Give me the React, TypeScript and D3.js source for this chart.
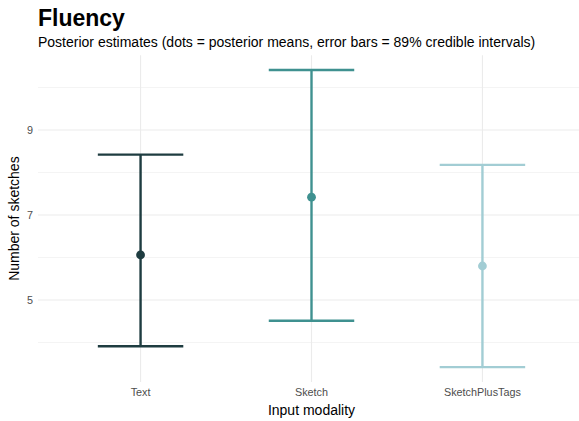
import React from "react";
import * as d3 from "d3";

const categories = ["Text", "Sketch", "SketchPlusTags"];
const means = [6.06, 7.42, 5.8];
const lowers = [3.91, 4.51, 3.42];
const uppers = [8.42, 10.41, 8.18];
const colors = ["#1E3C40", "#3F9190", "#A2CDD4"];
const yTicks = [5, 7, 9];
const yMinor = [4, 6, 8, 10];

const W = 579;
const H = 421;
const left = 38;
const right = 585;
const top = 55.2;
const bottom = 382;

export default function App() {
  const lo = d3.min(lowers)!;
  const hi = d3.max(uppers)!;
  const pad = (hi - lo) * 0.05;
  const y = d3.scaleLinear().domain([lo - pad, hi + pad]).range([bottom, top]);
  const step = (right - left) / 3.2;
  const x = (i: number) => left + step * (0.6 + i);
  const font = "'Liberation Sans', Arial, Helvetica, sans-serif";
  return (
    <svg width={W} height={H} style={{ position: "absolute", left: 0, top: 0, fontFamily: font }}>
      <rect width={W} height={H} fill="#fff" />
      {yMinor.map((v) => (
        <line key={"mi" + v} x1={left} x2={right} y1={y(v)} y2={y(v)} stroke="#EBEBEB" strokeWidth={0.55} />
      ))}
      {yTicks.map((v) => (
        <line key={"ma" + v} x1={left} x2={right} y1={y(v)} y2={y(v)} stroke="#EBEBEB" strokeWidth={1.1} />
      ))}
      {categories.map((c, i) => (
        <line key={"vg" + c} x1={x(i)} x2={x(i)} y1={top} y2={bottom} stroke="#EBEBEB" strokeWidth={1.1} />
      ))}
      {categories.map((c, i) => {
        const hw = step * 0.25;
        return (
          <g key={c} stroke={colors[i]} strokeWidth={2.4}>
            <line x1={x(i)} x2={x(i)} y1={y(lowers[i])} y2={y(uppers[i])} />
            <line x1={x(i) - hw} x2={x(i) + hw} y1={y(uppers[i])} y2={y(uppers[i])} />
            <line x1={x(i) - hw} x2={x(i) + hw} y1={y(lowers[i])} y2={y(lowers[i])} />
            <circle cx={x(i)} cy={y(means[i])} r={4.4} fill={colors[i]} stroke="none" />
          </g>
        );
      })}
      {yTicks.map((v) => (
        <text key={"yt" + v} x={33} y={y(v)} dy="0.35em" textAnchor="end" fontSize={10.8} fill="#4D4D4D">
          {v}
        </text>
      ))}
      {categories.map((c, i) => (
        <text key={"xt" + c} x={x(i)} y={396} textAnchor="middle" fontSize={10.8} fill="#4D4D4D">
          {c}
        </text>
      ))}
      <text x={(left + right) / 2} y={415} textAnchor="middle" fontSize={14} fill="#000">
        Input modality
      </text>
      <text transform={`translate(19,${(top + bottom) / 2}) rotate(-90)`} textAnchor="middle" fontSize={14} fill="#000">
        Number of sketches
      </text>
      <text x={38} y={26} fontSize={23} fontWeight="bold" fill="#000">
        Fluency
      </text>
      <text x={38} y={47} fontSize={14} fill="#000">
        Posterior estimates (dots = posterior means, error bars = 89% credible intervals)
      </text>
    </svg>
  );
}
